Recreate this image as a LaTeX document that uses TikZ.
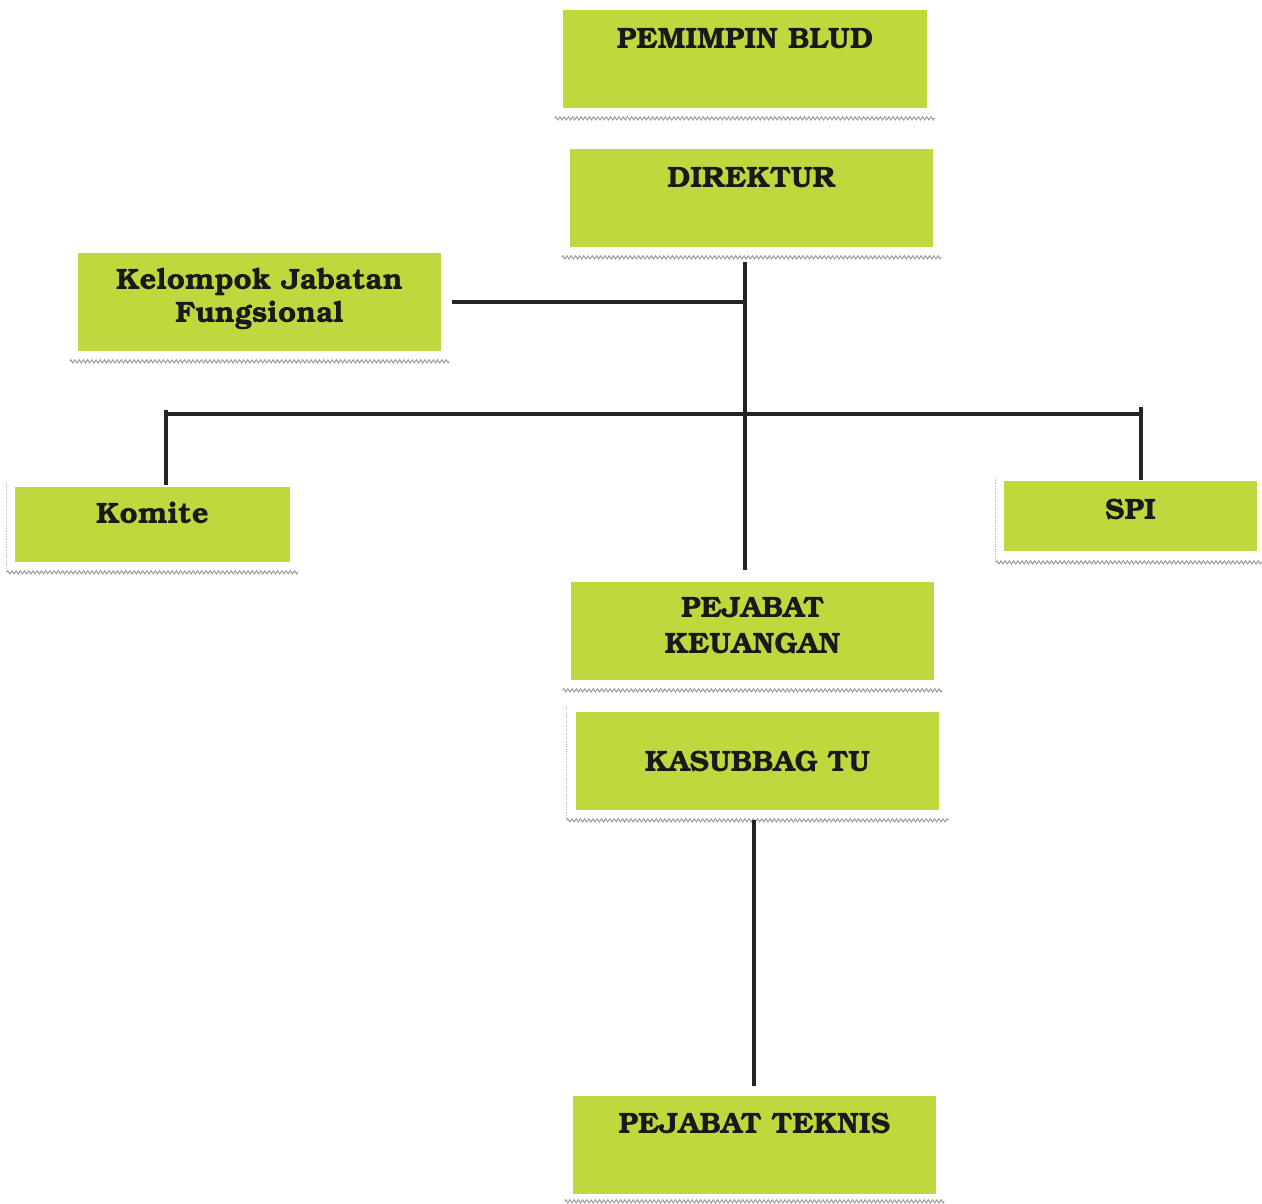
\documentclass[tikz,border=0pt]{standalone}
\usepackage[T1]{fontenc}
\usepackage{bookman}
\usepackage{tikz}
\usetikzlibrary{calc}
\usetikzlibrary{decorations.pathmorphing}

\definecolor{boxgreen}{RGB}{192,216,62}
\definecolor{linedark}{RGB}{40,36,34}
\tikzset{
  unit/.style={fill=boxgreen, inner sep=0pt, minimum width=7.26cm, minimum height=1.96cm,
    align=center, font=\fontsize{16.8}{18.5}\selectfont\bfseries, text=black!90,
    text height=0.76cm, text depth=1.2cm},
  shadowline/.style={draw=gray!75, line width=0.6pt, decorate,
    decoration={zigzag, amplitude=0.9pt, segment length=2.4pt}},
  edgeline/.style={draw=gray!60, densely dotted, line width=0.5pt},
  link/.style={draw=linedark, line width=2.2pt}
}

\begin{document}
\begin{tikzpicture}[x=0.02cm, y=-0.02cm]
  \useasboundingbox (0,0) rectangle (1262,1204);

  \node[unit, minimum width=7.28cm] (pim) at (745,59) {PEMIMPIN BLUD};
  \node[unit] (dir) at (751.5,198) {DIREKTUR};
  \node[unit, text height=1.38cm, text depth=0.58cm] (kjf) at (259.5,302) {Kelompok Jabatan\\Fungsional};
  \node[unit, minimum width=5.5cm, minimum height=1.5cm, text height=0.72cm, text depth=0.78cm] (kom) at (152.5,524.5) {Komite};
  \node[unit, minimum width=5.06cm, minimum height=1.4cm, text height=0.76cm, text depth=0.64cm] (spi) at (1130.5,516) {SPI};
  \node[unit, text height=1.42cm, text depth=0.54cm, font=\fontsize{16.8}{20}\selectfont\bfseries] (keu) at (752.5,631) {PEJABAT\\KEUANGAN};
  \node[unit, text height=1.18cm, text depth=0.78cm] (tu) at (757.5,761) {KASUBBAG TU};
  \node[unit, text height=0.74cm, text depth=1.22cm] (tek) at (754.5,1145) {PEJABAT TEKNIS};

  % shadow lines under the boxes
  \path[shadowline] ($(pim.south west)+(-8,10)$) -- ($(pim.south east)+(8,10)$);
  \path[shadowline] ($(dir.south west)+(-8,10)$) -- ($(dir.south east)+(8,10)$);
  \path[shadowline] ($(kjf.south west)+(-8,10)$) -- ($(kjf.south east)+(8,10)$);
  \path[shadowline] ($(kom.south west)+(-8,10)$) -- ($(kom.south east)+(8,10)$);
  \path[shadowline] ($(spi.south west)+(-8,11)$) -- ($(spi.south east)+(4,11)$);
  \path[shadowline] ($(keu.south west)+(-8,10)$) -- ($(keu.south east)+(8,10)$);
  \path[shadowline] ($(tu.south west)+(-9,10)$) -- ($(tu.south east)+(9,10)$);
  \path[shadowline] ($(tek.south west)+(-8,7)$) -- ($(tek.south east)+(8,7)$);
  \path[edgeline] ($(kom.north west)+(-8,-3)$) -- ($(kom.south west)+(-8,9)$);
  \path[edgeline] ($(spi.north west)+(-8,-3)$) -- ($(spi.south west)+(-8,10)$);
  \path[edgeline] ($(tu.north west)+(-9,-5)$) -- ($(tu.south west)+(-9,9)$);

  % connectors
  \coordinate (top) at (745,262);
  \coordinate (bot) at (745,570);
  \coordinate (busL) at (166,414);
  \coordinate (busR) at (1141,414);
  \coordinate (tuout) at (754,820);
  \coordinate (tekin) at (754,1086);

  \path[link] (top) -- (bot);
  \path[link] ($(kjf.east)+(11,0)$) -- (kjf.east -| top);
  \path[link] (busL) -- (busR);
  \path[link] ($(busL)+(0,-4)$) -- ($(busL)+(0,71)$);
  \path[link] ($(busR)+(0,-7)$) -- ($(busR)+(0,66)$);
  \path[link] (tuout) -- (tekin);
\end{tikzpicture}
\end{document}
